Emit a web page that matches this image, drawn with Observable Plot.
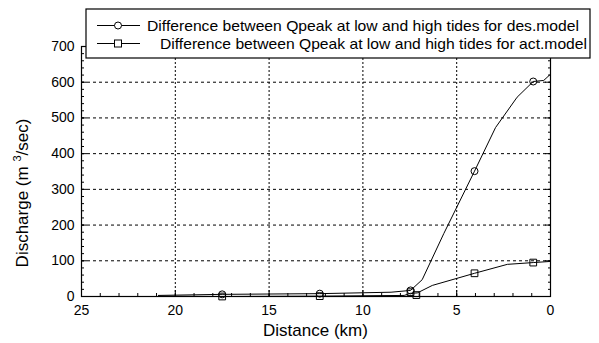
<!DOCTYPE html>
<html><head><meta charset="utf-8">
<script src="https://cdn.jsdelivr.net/npm/d3@7"></script>
<script src="https://cdn.jsdelivr.net/npm/@observablehq/plot@0.6"></script>
<style>
body{margin:0;background:#fff}
svg{font-family:"Liberation Sans",Arial,Helvetica,sans-serif}
</style>
</head><body><div id="chart"></div>
<script>
// des.model curve (distance km, discharge m3/s)
const desDist = [20.9, 17.5, 12.3, 8.5, 7.46, 6.84, 5.69, 4.05, 2.93, 1.78, 0.92, 0.36, 0.05];
const desQ    = [3,    6,    8,    12,  17,   47,   176,  351,  473,  558,  602,  605,  620];
// markers on des.model
const desMarkDist = [17.5, 12.3, 7.46, 4.05, 0.92];
const desMarkQ    = [6,    8,    17,   351,  602];
// act.model curve
const actDist = [20.9, 17.5, 12.3, 7.8, 7.46, 7.1, 6.3, 4.05, 2.3, 0.92, 0.05];
const actQ    = [1,    0,    1,    3,   9,    10,  31,  65,   90,  95,   98];
const actMarkDist = [17.5, 12.3, 7.46, 7.15, 4.05, 0.92];
const actMarkQ    = [0,    1,    12,   4,    65,   95];

const xTicks = [25, 20, 15, 10, 5, 0];
const yTicks = [0, 100, 200, 300, 400, 500, 600, 700];
const xGrid = [20, 15, 10, 5];
const yGrid = [100, 200, 300, 400, 500, 600];
const xMinor = d3.range(0, 26, 1);
const yMinor = d3.range(0, 701, 20);

const legendLabels = [
  "Difference between Qpeak at low and high tides for des.model",
  "Difference between Qpeak at low and high tides for act.model"
];
const xTitle = "Distance (km)";

const des = desDist.map((d, i) => ({d, q: desQ[i]}));
const act = actDist.map((d, i) => ({d, q: actQ[i]}));
const desM = desMarkDist.map((d, i) => ({d, q: desMarkQ[i]}));
const actM = actMarkDist.map((d, i) => ({d, q: actMarkQ[i]}));

const plot = Plot.plot({
  width: 599,
  height: 343,
  marginLeft: 81,
  marginRight: 49,
  marginTop: 46,
  marginBottom: 47,
  style: {fontFamily: '"Liberation Sans",Arial,sans-serif', fontSize: "14px", background: "#fff", color: "#000"},
  x: {domain: [0, 25], reverse: true},
  y: {domain: [0, 700]},
  marks: [
    Plot.ruleY(yGrid, {stroke: "#000", strokeWidth: 1, strokeDasharray: "3,3"}),
    Plot.ruleX(xGrid, {stroke: "#000", strokeWidth: 1, strokeDasharray: "2,2"}),
    // bottom axis
    Plot.axisX(xTicks, {anchor: "bottom", tickSize: 0, tickPadding: 9, fontSize: 14, label: null}),
    Plot.axisX(xTicks, {anchor: "bottom", tickSize: 6, dy: -6, text: null, label: null}),
    Plot.axisX(xMinor, {anchor: "bottom", tickSize: 3, dy: -3, text: null, label: null}),
    Plot.axisX(xTicks, {anchor: "top", tickSize: 6, dy: 6, text: null, label: null}),
    Plot.axisX(xMinor, {anchor: "top", tickSize: 3, dy: 3, text: null, label: null}),
    // left axis
    Plot.axisY(yTicks, {anchor: "left", tickSize: 0, tickPadding: 7, fontSize: 14, label: null}),
    Plot.axisY(yTicks, {anchor: "left", tickSize: 6, dx: 6, text: null, label: null}),
    Plot.axisY(yMinor, {anchor: "left", tickSize: 3, dx: 3, text: null, label: null}),
    // right axis
    Plot.axisY(yTicks, {anchor: "right", tickSize: 6, dx: -6, text: null, label: null}),
    Plot.axisY(yMinor, {anchor: "right", tickSize: 3, dx: -3, text: null, label: null}),
    Plot.frame({stroke: "#000", strokeWidth: 1.2}),
    Plot.line(des, {x: "d", y: "q", stroke: "#000", strokeWidth: 1}),
    Plot.line(act, {x: "d", y: "q", stroke: "#000", strokeWidth: 1}),
    Plot.dot(desM, {x: "d", y: "q", r: 3.5, stroke: "#000", fill: "none", strokeWidth: 1}),
    Plot.dot(actM, {x: "d", y: "q", symbol: "square", r: 3.8, stroke: "#000", fill: "none", strokeWidth: 1})
  ]
});

document.getElementById("chart").appendChild(plot);
const svg = d3.select(plot);

// axis titles
svg.append("text")
  .attr("x", 315.5).attr("y", 336)
  .attr("text-anchor", "middle")
  .attr("font-size", 17)
  .attr("fill", "#000")
  .text(xTitle);

const yt = svg.append("text")
  .attr("transform", "translate(28,193) rotate(-90)")
  .attr("text-anchor", "middle")
  .attr("font-size", 17)
  .attr("fill", "#000");
yt.append("tspan").text("Discharge (m ");
yt.append("tspan").attr("font-size", 11).attr("dy", -7).text("3");
yt.append("tspan").attr("dy", 7).text("/sec)");

// legend box
const lg = svg.append("g");
lg.append("rect").attr("x", 86).attr("y", 9).attr("width", 504).attr("height", 49)
  .attr("fill", "#fff").attr("stroke", "#000").attr("stroke-width", 1.2);
const rows = [{y: 25.5, tx: 147, tl: 432, sym: "circle"}, {y: 43.5, tx: 160, tl: 427, sym: "square"}];
rows.forEach((r, i) => {
  lg.append("line").attr("x1", 97).attr("x2", 140).attr("y1", r.y).attr("y2", r.y)
    .attr("stroke", "#000").attr("stroke-width", 1);
  if (r.sym === "circle") {
    lg.append("circle").attr("cx", 118).attr("cy", r.y).attr("r", 3.5)
      .attr("fill", "#fff").attr("stroke", "#000");
  } else {
    lg.append("rect").attr("x", 114.5).attr("y", r.y - 3.5).attr("width", 7).attr("height", 7)
      .attr("fill", "#fff").attr("stroke", "#000");
  }
  lg.append("text").attr("x", r.tx).attr("y", r.y + 5)
    .attr("text-anchor", "start")
    .attr("font-size", 15).attr("fill", "#000")
    .attr("textLength", r.tl).attr("lengthAdjust", "spacingAndGlyphs")
    .text(legendLabels[i]);
});
</script>
</body></html>
